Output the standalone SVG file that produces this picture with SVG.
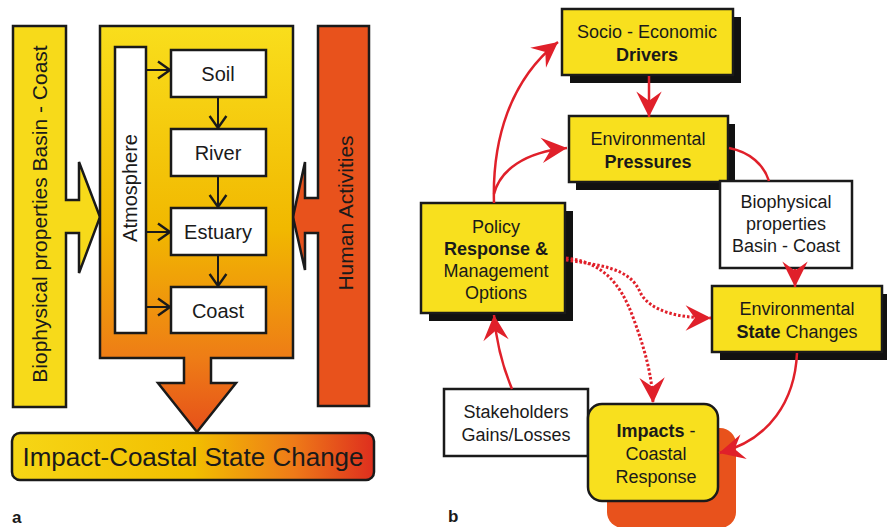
<svg xmlns="http://www.w3.org/2000/svg" width="887" height="527" viewBox="0 0 887 527">
<style>
text{font-family:"Liberation Sans",Arial,sans-serif;fill:#1a1a1a;}
.lb{font-size:20px;text-anchor:middle;}
.nb{font-size:18px;text-anchor:middle;}
.b{font-weight:bold;}
.box{fill:#fff;stroke:#1a1a1a;stroke-width:2.5;}
.ybox{fill:#f8e01e;stroke:#1a1a1a;stroke-width:2.5;}
.sh{fill:#111;}
.blk{stroke:#1a1a1a;stroke-width:2;fill:none;marker-end:url(#open);}
.red{stroke:#e0202a;stroke-width:2.5;fill:none;marker-end:url(#barb);}
.redn{stroke:#e0202a;stroke-width:2.5;fill:none;}
.dot{stroke:#e0202a;stroke-width:3;fill:none;stroke-dasharray:2.5 2;marker-end:url(#barb);}
</style>
<defs>
<marker id="open" markerUnits="userSpaceOnUse" markerWidth="24" markerHeight="24" viewBox="-12 -10 14 20" refX="0" refY="0" orient="auto">
<path d="M-10,-7 L0,0 L-10,7" fill="none" stroke="#1a1a1a" stroke-width="2"/>
</marker>
<marker id="barb" markerUnits="userSpaceOnUse" markerWidth="30" markerHeight="30" viewBox="-24 -12 26 24" refX="0" refY="0" orient="auto">
<path d="M0,0 L-22,-11 L-14,0 L-22,11 Z" fill="#e0202a"/>
</marker>
<linearGradient id="gCenter" gradientUnits="userSpaceOnUse" x1="0" y1="26" x2="0" y2="432">
<stop offset="0" stop-color="#f9de1c"/>
<stop offset="0.5" stop-color="#f1b800"/>
<stop offset="0.82" stop-color="#ee7c16"/>
<stop offset="1" stop-color="#e6501a"/>
</linearGradient>
<linearGradient id="gBottom" gradientUnits="userSpaceOnUse" x1="12" y1="0" x2="374" y2="0">
<stop offset="0" stop-color="#f6d616"/>
<stop offset="0.5" stop-color="#f2bf00"/>
<stop offset="0.78" stop-color="#ee7a18"/>
<stop offset="1" stop-color="#de2e1e"/>
</linearGradient>
</defs>

<g id="biophysical-bar">
<path d="M13,26 H66 V200 H79 V162 L100,217 L79,273 V233 H66 V407 H13 Z" fill="#f7da1a" stroke="#1a1a1a" stroke-width="2.5"/>
<text transform="translate(47,214) rotate(-90)" font-size="21" text-anchor="middle">Biophysical properties Basin - Coast</text>
</g>

<g id="human-activities">
<path d="M318,26 H369 V406 H318 V233 H305 V270 L293,217 L305,162 V198 H318 Z" fill="#e8521c" stroke="#1a1a1a" stroke-width="2.5"/>
<text transform="translate(353,213) rotate(-90)" font-size="21" text-anchor="middle">Human Activities</text>
</g>

<g id="system-box">
<path d="M100,26 H293 V358 H211 V383 H236 L197,432 L158,383 H184 V358 H100 Z" fill="url(#gCenter)" stroke="#1a1a1a" stroke-width="2.5"/>
</g>

<g id="atmosphere">
<rect x="115" y="47" width="31" height="286" class="box"/>
<text transform="translate(137,188) rotate(-90)" class="lb">Atmosphere</text>
</g>
<g id="soil"><rect x="171" y="50" width="95" height="47" class="box"/><text x="218" y="81" class="lb">Soil</text></g>
<g id="river"><rect x="171" y="129" width="95" height="47" class="box"/><text x="218" y="160" class="lb">River</text></g>
<g id="estuary"><rect x="171" y="208" width="95" height="47" class="box"/><text x="218" y="239" class="lb">Estuary</text></g>
<g id="coast"><rect x="171" y="287" width="95" height="46" class="box"/><text x="218" y="318" class="lb">Coast</text></g>

<g id="impact-state-change">
<rect x="12" y="433" width="362" height="47" rx="8" fill="url(#gBottom)" stroke="#1a1a1a" stroke-width="2.5"/>
<text x="193" y="466" font-size="26" text-anchor="middle">Impact-Coastal State Change</text>
</g>

<g id="connectors-a">
<line x1="147" y1="70" x2="170" y2="70" class="blk"/>
<line x1="147" y1="232" x2="170" y2="232" class="blk"/>
<line x1="147" y1="307" x2="170" y2="307" class="blk"/>
<line x1="218" y1="98" x2="218" y2="128" class="blk"/>
<line x1="218" y1="177" x2="218" y2="207" class="blk"/>
<line x1="218" y1="256" x2="218" y2="286" class="blk"/>
</g>

<text x="12" y="523" font-size="17" class="b">a</text>
<text x="448" y="522" font-size="17" class="b">b</text>

<g id="drivers">
<rect x="570" y="17" width="171" height="66" class="sh"/>
<rect x="562" y="9" width="171" height="66" class="ybox"/>
<text x="647" y="38" class="nb" font-size="17">Socio - Economic</text>
<text x="647" y="61" class="nb b">Drivers</text>
</g>

<g id="pressures">
<rect x="576" y="124" width="159" height="66" class="sh"/>
<rect x="569" y="116" width="159" height="66" class="ybox"/>
<text x="648" y="145" class="nb">Environmental</text>
<text x="648" y="168" class="nb b">Pressures</text>
</g>

<g id="policy">
<rect x="429" y="211" width="144" height="110" class="sh"/>
<rect x="421" y="203" width="144" height="110" class="ybox"/>
<text x="496" y="233" class="nb">Policy</text>
<text x="496" y="255" class="nb b">Response &amp;</text>
<text x="496" y="277" class="nb">Management</text>
<text x="496" y="299" class="nb">Options</text>
</g>

<g id="biophysical-box">
<rect x="720" y="181" width="132" height="87" class="box"/>
<text x="786" y="208" class="nb">Biophysical</text>
<text x="786" y="230" class="nb">properties</text>
<text x="786" y="252" class="nb">Basin - Coast</text>
</g>

<g id="state-changes">
<rect x="720" y="294" width="170" height="66" class="sh"/>
<rect x="712" y="286" width="170" height="66" class="ybox"/>
<text x="797" y="315" class="nb">Environmental</text>
<text x="797" y="338" class="nb"><tspan class="b">State</tspan> Changes</text>
</g>

<g id="stakeholders">
<rect x="444" y="389" width="144" height="67" class="box"/>
<text x="516" y="418" class="nb">Stakeholders</text>
<text x="516" y="441" class="nb">Gains/Losses</text>
</g>

<g id="impacts">
<rect x="607" y="428" width="129" height="100" rx="16" fill="#e8521c"/>
<rect x="588" y="404" width="130" height="97" rx="14" class="ybox"/>
<text x="656" y="437" class="nb"><tspan class="b">Impacts</tspan> -</text>
<text x="656" y="460" class="nb">Coastal</text>
<text x="656" y="483" class="nb">Response</text>
</g>

<g id="connectors-b">
<line x1="649" y1="76" x2="649" y2="117" class="red"/>
<path d="M494,203 C492,140 510,80 558,42" class="red"/>
<path d="M494,194 C500,170 525,152 567,148" class="red"/>
<path d="M729,148 C750,152 764,165 769,181" class="redn"/>
<line x1="795" y1="269" x2="795" y2="287" class="red"/>
<path d="M797,353 C795,400 770,440 719,453" class="red"/>
<path d="M512,389 C502,365 496,340 494,315" class="red"/>
<path d="M566,260 C600,265 630,268 640,292 C650,312 680,318 711,318" class="dot"/>
<path d="M566,258 C600,262 620,280 634,320 C645,350 652,375 653,403" class="dot"/>
</g>
</svg>
